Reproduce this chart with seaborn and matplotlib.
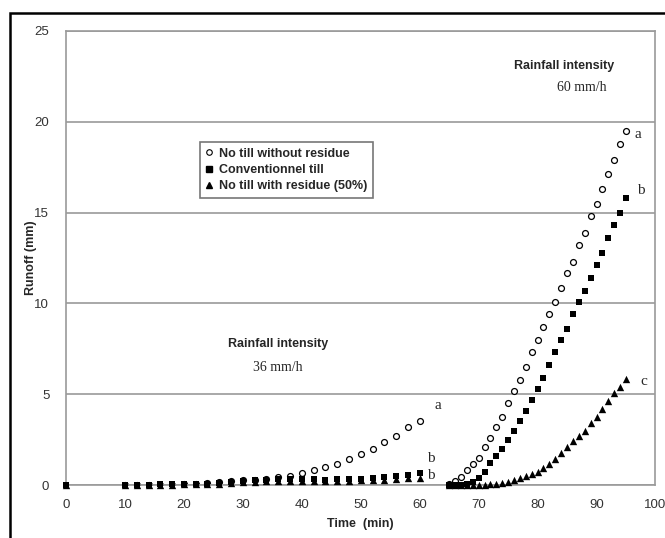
import numpy as np
import pandas as pd
import matplotlib
matplotlib.use('Agg')
import matplotlib.pyplot as plt
import seaborn as sns
from matplotlib.lines import Line2D
from matplotlib.patches import Rectangle

# time (min): first rain 36 mm/h, second rain 60 mm/h
time_1 = [0] + list(range(10, 61, 2))
time_2 = list(range(65, 96))

# runoff (mm)
no_till_1 = [0, 0, 0, 0, 0, 0.02, 0.04, 0.06, 0.1, 0.15, 0.2, 0.25, 0.3, 0.35, 0.42,
             0.5, 0.64, 0.83, 1.0, 1.18, 1.42, 1.72, 1.96, 2.37, 2.71, 3.2, 3.55]
conv_1 = [0, 0, 0.02, 0.02, 0.03, 0.03, 0.04, 0.05, 0.07, 0.12, 0.18, 0.22, 0.26, 0.29,
          0.32, 0.34, 0.33, 0.31, 0.3, 0.31, 0.33, 0.34, 0.36, 0.42, 0.47, 0.55, 0.65]
resid_1 = [0, 0, 0.01, 0.01, 0.02, 0.02, 0.03, 0.04, 0.05, 0.08, 0.12, 0.15, 0.18, 0.2,
           0.22, 0.24, 0.24, 0.23, 0.22, 0.23, 0.24, 0.25, 0.27, 0.3, 0.33, 0.36, 0.4]

no_till_2 = [0.05, 0.2, 0.45, 0.8, 1.15, 1.5, 2.1, 2.6, 3.2, 3.75, 4.5, 5.2, 5.8, 6.5, 7.3,
             8.0, 8.7, 9.4, 10.1, 10.85, 11.7, 12.3, 13.2, 13.9, 14.8, 15.5, 16.3, 17.1,
             17.9, 18.8, 19.5]
conv_2 = [0, 0, 0.02, 0.05, 0.15, 0.4, 0.7, 1.2, 1.6, 2.0, 2.5, 3.0, 3.5, 4.1, 4.7, 5.3,
          5.9, 6.6, 7.3, 8.0, 8.6, 9.4, 10.1, 10.7, 11.4, 12.1, 12.8, 13.6, 14.3, 15.0, 15.8]
resid_2 = [0, 0, 0, 0, 0, 0.01, 0.02, 0.04, 0.07, 0.12, 0.19, 0.27, 0.37, 0.48, 0.6, 0.73,
           0.93, 1.15, 1.43, 1.75, 2.1, 2.4, 2.7, 3.0, 3.4, 3.76, 4.17, 4.6, 5.05, 5.42, 5.82]

labels = ['No till without residue', 'Conventionnel till', 'No till with residue (50%)']

sns.set_style('white')
plt.rcParams['font.family'] = ['Liberation Sans', 'DejaVu Sans']

fig = plt.figure(figsize=(6.65, 5.38), dpi=100)
ax = fig.add_axes([0.0992, 0.0985, 0.8865, 0.8439])

t = time_1 + time_2
df = pd.DataFrame({'time': t * 3,
                   'runoff': no_till_1 + no_till_2 + conv_1 + conv_2 + resid_1 + resid_2,
                   'treatment': np.repeat(labels, len(t))})

d = df[df['treatment'] == labels[0]]
sns.scatterplot(x='time', y='runoff', data=d[d['time'] > 0], ax=ax, marker='o', s=18,
                facecolor='white', edgecolor='black', linewidth=0.9, zorder=2)
d = df[df['treatment'] == labels[2]]
sns.scatterplot(x='time', y='runoff', data=d, ax=ax, marker='^', s=28,
                color='black', edgecolor='black', linewidth=0, zorder=3, clip_on=False)
d = df[df['treatment'] == labels[1]]
sns.scatterplot(x='time', y='runoff', data=d, ax=ax, marker='s', s=24,
                color='black', edgecolor='black', linewidth=0, zorder=4, clip_on=False)

ax.set_xlim(0, 100)
ax.set_ylim(0, 25)
ax.set_xticks(range(0, 101, 10))
ax.set_yticks(range(0, 26, 5))
ax.grid(axis='y', color='#9a9a9a', linewidth=1.2)
ax.set_axisbelow(True)
for s in ax.spines.values():
    s.set_color('#9a9a9a')
    s.set_linewidth(1.2)
ax.tick_params(axis='both', direction='out', length=4, width=1, color='#9a9a9a',
               labelsize=9.5, labelcolor='#333333', pad=6)
ax.tick_params(axis='y', pad=8)
ax.set_xlabel('Time  (min)', fontsize=9, fontweight='bold', labelpad=5)
ax.set_ylabel('Runoff (mm)', fontsize=9, fontweight='bold', labelpad=-2)

handles = [Line2D([], [], marker='o', linestyle='', markersize=4, markerfacecolor='white',
                  markeredgecolor='black', markeredgewidth=0.8),
           Line2D([], [], marker='s', linestyle='', markersize=4.5, color='black'),
           Line2D([], [], marker='^', linestyle='', markersize=5, color='black')]
leg = ax.legend(handles, labels, loc='upper left', bbox_to_anchor=(0.2275, 0.7555),
                borderaxespad=0, fancybox=False, framealpha=1, edgecolor='#777777',
                prop={'weight': 'bold', 'size': 9}, handlelength=0.6, handletextpad=0.5,
                labelspacing=0.35, borderpad=0.45)
leg.get_frame().set_linewidth(1.2)

# annotations
ax.text(84.5, 22.9, 'Rainfall intensity', fontsize=9, fontweight='bold', ha='center')
ax.text(87.5, 21.7, '60 mm/h', fontsize=10, family='Liberation Serif', ha='center')
ax.text(36, 7.6, 'Rainfall intensity', fontsize=9, fontweight='bold', ha='center')
ax.text(36, 6.3, '36 mm/h', fontsize=10, family='Liberation Serif', ha='center')
serif = dict(fontsize=11, family='Liberation Serif', va='center')
ax.text(96.5, 19.3, 'a', **serif)
ax.text(96.8, 16.2, 'b', **serif)
ax.text(97.4, 5.7, 'c', **serif)
ax.text(62.5, 4.4, 'a', **serif)
ax.text(61.2, 1.45, 'b', **serif)
ax.text(61.2, 0.5, 'b', **serif)

# outer black frame
fig.patches.append(Rectangle((10 / 665, -0.1), 1.2, 1 - 13 / 538 + 0.1, transform=fig.transFigure,
                             fill=False, edgecolor='black', linewidth=1.8))

fig.savefig('out.png', dpi=100)
